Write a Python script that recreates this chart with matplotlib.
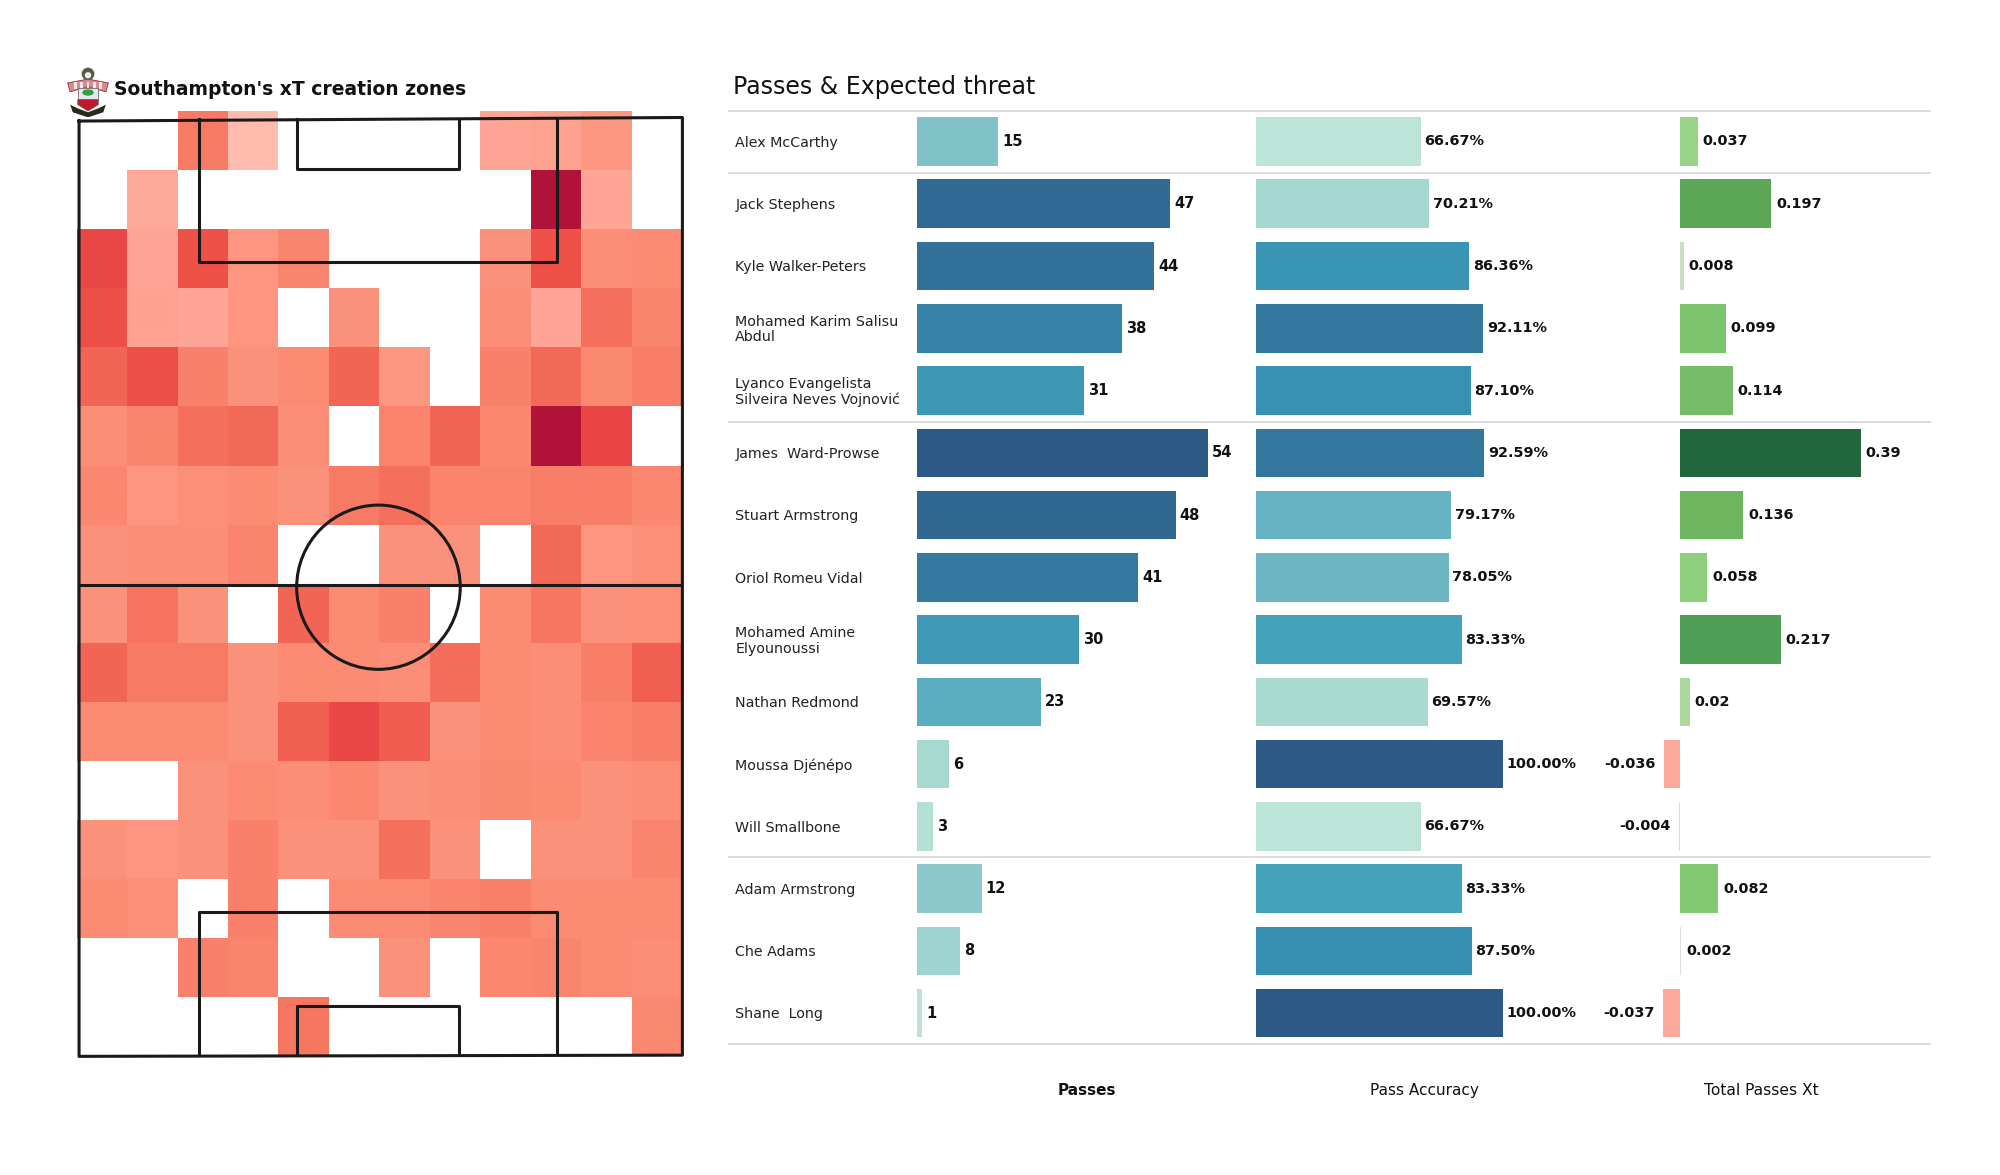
import numpy as np
import matplotlib.pyplot as plt
import matplotlib.colors as col
from matplotlib.patches import Ellipse, Polygon, Rectangle, Circle

nan = np.nan

# xT heat per zone, top row first
xt_zones = np.array([
    [nan, nan, .42, .05, nan, nan, nan, nan, .20, .22, .27, nan],
    [nan, .18, nan, nan, nan, nan, nan, nan, nan, 1.0, .20, nan],
    [.68, .20, .62, .28, .36, nan, nan, nan, .30, .62, .32, .33],
    [.63, .22, .20, .28, nan, .30, nan, nan, .32, .20, .47, .36],
    [.52, .63, .38, .30, .33, .52, .27, nan, .38, .50, .34, .40],
    [.32, .36, .47, .50, .32, nan, .37, .52, .35, 1.0, .70, nan],
    [.35, .28, .31, .33, .30, .42, .47, .37, .37, .40, .40, .35],
    [.30, .32, .32, .36, nan, nan, .30, .30, nan, .50, .28, .31],
    [.30, .45, .30, nan, .52, .33, .38, nan, .33, .44, .30, .31],
    [.52, .42, .42, .30, .33, .33, .32, .48, .33, .32, .40, .55],
    [.33, .33, .33, .30, .55, .68, .56, .30, .33, .32, .37, .40],
    [nan, nan, .30, .33, .32, .35, .30, .32, .34, .33, .30, .32],
    [.30, .28, .30, .38, .30, .30, .47, .30, nan, .30, .30, .36],
    [.33, .31, nan, .38, nan, .33, .33, .37, .39, .33, .33, .33],
    [nan, nan, .38, .36, nan, nan, .30, nan, .35, .36, .33, .32],
    [nan, nan, nan, nan, .44, nan, nan, nan, nan, nan, nan, .34],
])

players = ["Alex McCarthy", "Jack Stephens", "Kyle Walker-Peters",
           "Mohamed Karim Salisu\nAbdul", "Lyanco Evangelista\nSilveira Neves Vojnović",
           "James  Ward-Prowse", "Stuart Armstrong", "Oriol Romeu Vidal",
           "Mohamed Amine\nElyounoussi", "Nathan Redmond", "Moussa Djénépo",
           "Will Smallbone", "Adam Armstrong", "Che Adams", "Shane  Long"]
passes = [15, 47, 44, 38, 31, 54, 48, 41, 30, 23, 6, 3, 12, 8, 1]
accuracy = [66.67, 70.21, 86.36, 92.11, 87.10, 92.59, 79.17, 78.05,
            83.33, 69.57, 100.00, 66.67, 83.33, 87.50, 100.00]
xt_total = [0.037, 0.197, 0.008, 0.099, 0.114, 0.39, 0.136, 0.058,
            0.217, 0.02, -0.036, -0.004, 0.082, 0.002, -0.037]
xt_labels = ["0.037", "0.197", "0.008", "0.099", "0.114", "0.39", "0.136", "0.058",
             "0.217", "0.02", "-0.036", "-0.004", "0.082", "0.002", "-0.037"]
group_lines = [-0.49, 0.5, 4.5, 11.5, 14.49]
columns = ["Passes", "Pass Accuracy", "Total Passes Xt"]

reds = col.LinearSegmentedColormap.from_list("xt", [
    (0, "#ffc2b6"), (.2, "#fea595"), (.32, "#fc8d75"), (.45, "#f6745f"),
    (.6, "#ee5449"), (.7, "#e94545"), (1, "#b11238")])
blues = col.LinearSegmentedColormap.from_list("blues", [
    (0, "#bce4d8"), (.1, "#a5d8d0"), (.27, "#7fc1c9"), (.5, "#45a0ba"),
    (.62, "#3790b1"), (.76, "#3479a0"), (1, "#2c5985")])
xt_cmap = col.LinearSegmentedColormap.from_list("xtbar", [
    (0, "#fca99b"), (.0864, "#e4dcd8"), (.094, "#dddddd"), (.105, "#c5dfba"),
    (.133, "#add9a0"), (.173, "#98d488"), (.222, "#8dcf7c"), (.279, "#82c972"),
    (.353, "#75bd68"), (.405, "#6db55f"), (.548, "#5ca756"), (.595, "#4f9e56"),
    (1, "#22663d")])

W, H = 1568.0, 921.0


def fig_axes(x0, y0, x1, y1):
    # box given in px of the 1568 wide view
    return fig.add_axes([x0 / W, 1 - y1 / H, (x1 - x0) / W, (y1 - y0) / H])


fig = plt.figure(figsize=(20, 11.75), dpi=100)
fig.patch.set_facecolor("white")

# pitch
ax = fig_axes(60, 87, 535, 828)
ax.pcolormesh(np.arange(13), np.arange(17), np.ma.masked_invalid(xt_zones), cmap=reds,
              vmin=0, vmax=1, edgecolor="none", linewidth=0)
ax.set_xlim(0, 12)
ax.set_ylim(16, 0)
ax.axis("off")
lw = 2.2
line = "#1a1a1a"
ax.plot([.05, 12, 12, .05, .05], [.17, .11, 15.98, 16, .17], c=line, lw=lw, clip_on=False)
ax.plot([.05, 12], [8.03, 8.03], c=line, lw=lw)
ax.plot([2.42, 2.42, 9.52, 9.52], [.14, 2.55, 2.55, .12], c=line, lw=lw)
ax.plot([4.37, 4.37, 7.58, 7.58], [.14, .99, .99, .13], c=line, lw=lw)
ax.plot([2.42, 2.42, 9.52, 9.52], [16, 13.56, 13.56, 16], c=line, lw=lw)
ax.plot([4.37, 4.37, 7.58, 7.58], [16, 15.14, 15.14, 16], c=line, lw=lw)
ax.add_patch(Ellipse((5.98, 8.06), 3.24, 2.78, fc="none", ec=line, lw=lw))

fig.text(89 / W, 1 - 70.5 / H, "Southampton's xT creation zones", fontsize=13.5,
         fontweight="bold", va="center", color="#111111")

# crest
crest = fig_axes(52, 52, 86, 92)
crest.set_xlim(0, 34)
crest.set_ylim(40, 0)
crest.axis("off")
crest.add_patch(Circle((17, 6), 5, fc="#5a5a48", ec="none"))
crest.add_patch(Circle((17, 7), 2.5, fc="#f2f2f2", ec="none"))
crest.add_patch(Polygon([[1, 13], [17, 10], [33, 13], [31, 20], [17, 16], [3, 20]],
                        fc="#d88a90", ec="#8a3040", lw=.6))
for bx in [6, 11, 16, 21, 26]:
    crest.add_patch(Rectangle((bx, 12), 2, 6, fc="#f5e6e6", ec="none"))
crest.add_patch(Rectangle((9, 17), 16, 9, fc="#dfeaf0", ec="#555555", lw=.5))
crest.add_patch(Ellipse((17, 20.5), 9, 5, fc="#3c9a40", ec="none"))
crest.add_patch(Polygon([[9, 26], [25, 26], [25, 30], [17, 35], [9, 30]], fc="#c0182c", ec="#555555", lw=.5))
crest.add_patch(Polygon([[3, 30], [9, 33], [17, 36], [25, 33], [31, 30], [29, 36], [17, 40], [5, 36]],
                        fc="#2b2b1c", ec="none"))

fig.text(575 / W, 1 - 68 / H, "Passes & Expected threat", fontsize=17, va="center", color="#111111")

# table
rows = np.arange(len(players))
ymin, ymax = 14.49, -0.49
ax_p = fig_axes(719, 87, 985, 818)
ax_a = fig_axes(985, 87, 1250, 818)
ax_x = fig_axes(1250, 87, 1514, 818)
dy = 0.0

ax_p.barh(rows, passes, height=.78, color=blues((np.array(passes) - 1) / 53))
ax_p.set_xlim(0, 266 / 4.222)
for y, v in zip(rows, passes):
    ax_p.text(v + .75, y + dy, str(v), fontsize=10.5, fontweight="bold", va="center", color="#111111")

ax_a.barh(rows, accuracy, height=.78, color=blues((np.array(accuracy) - 66.67) / 33.33))
ax_a.set_xlim(0, 265 / 1.93)
for y, v in zip(rows, accuracy):
    ax_a.text(v + 1.5, y + dy, "%.2f%%" % v, fontsize=10.4, fontweight="bold", va="center", color="#111111")

xt = np.array(xt_total)
ax_x.barh(rows, xt, height=.78, color=xt_cmap((xt + 0.037) / 0.427))
ax_x.set_xlim(-67.5 / 362, 196.5 / 362)
for y, v, s in zip(rows, xt, xt_labels):
    if v < 0:
        ax_x.text(v - .018, y + dy, s, fontsize=10.4, fontweight="bold", va="center", ha="right", color="#111111")
    else:
        ax_x.text(v + .010, y + dy, s, fontsize=10.4, fontweight="bold", va="center", color="#111111")

for a in (ax_p, ax_a, ax_x):
    a.set_ylim(ymin, ymax)
    a.axis("off")

# names and separators live on one overlay
over = fig_axes(571, 87, 1514, 818)
over.set_xlim(571, 1514)
over.set_ylim(ymin, ymax)
over.axis("off")
over.patch.set_alpha(0)
for y, name in zip(rows, players):
    over.text(576.5, y + .02, name, fontsize=10.3, va="center", color="#222222", linespacing=1.15)
over.hlines(group_lines, 571, 1514, color="#dcdcdc", lw=1.4, clip_on=False)

for x, name, weight, fs in zip([852, 1116.5, 1381], columns, ["bold", "normal", "normal"], [11, 11, 11.2]):
    fig.text(x / W, 1 - 855 / H, name, fontsize=fs, fontweight=weight, ha="center", va="center", color="#111111")

fig.savefig("out.png", dpi=100)
